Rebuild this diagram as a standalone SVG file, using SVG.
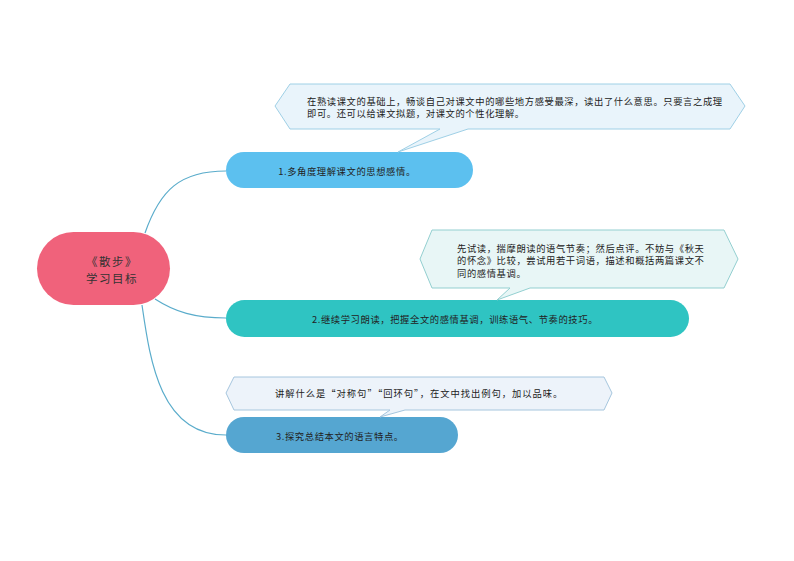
<svg xmlns="http://www.w3.org/2000/svg" width="794" height="561" viewBox="0 0 794 561">
<style>
text{font-family:"Noto Sans CJK SC","Noto Sans",sans-serif;fill:#222;}
.t{font-size:9.3px;letter-spacing:0.6px;}
.c{font-size:11.5px;letter-spacing:1.5px;fill:#333;}
.call{fill:#e9f4fb;stroke:#9fd0e6;stroke-width:1;}
.call2{fill:#e8f6f6;stroke:#93cfd0;stroke-width:1;}
.call3{fill:#edf3fa;stroke:#a6c6de;stroke-width:1;}
.conn{fill:none;stroke:#5aaccb;stroke-width:1.2;}
</style>
<rect width="794" height="561" fill="#fff"/>
<g id="connectors">
<path class="conn" d="M145,233 C160,190 180,171 226,171"/>
<path class="conn" d="M155,299 C175,312 195,318 226,318"/>
<path class="conn" d="M142,305 C150,360 160,435 226,435"/>
</g>
<g id="center">
<rect x="37" y="232" width="133" height="73" rx="36.5" fill="#f0627b"/>
<text class="c" x="112" y="265.5" text-anchor="middle">《散步》</text>
<text class="c" x="112" y="282.5" text-anchor="middle">学习目标</text>
</g>
<g id="node1">
<rect x="226" y="152" width="247" height="36" rx="18" fill="#5cc0ef"/>
<text class="t" x="347" y="175" text-anchor="middle">1.多角度理解课文的思想感情。</text>
</g>
<g id="callout1">
<path class="call" d="M290,84 L730,84 L745,106 L730,129 L468,129 L398,152 L440,129 L290,129 L275,106 Z"/>
<text class="t" x="307" y="104.5">在熟读课文的基础上，畅谈自己对课文中的哪些地方感受最深，读出了什么意思。只要言之成理</text>
<text class="t" x="307" y="117">即可。还可以给课文拟题，对课文的个性化理解。</text>
</g>
<g id="node2">
<rect x="226" y="300" width="463" height="37" rx="18.5" fill="#2fc4c2"/>
<text class="t" x="455" y="323" text-anchor="middle">2.继续学习朗读，把握全文的感情基调，训练语气、节奏的技巧。</text>
</g>
<g id="callout2">
<path class="call2" d="M432,230 L724,230 L738,259 L724,288 L530,288 L497,300 L510,288 L432,288 L420,259 Z"/>
<text class="t" x="457" y="251.5">先试读，揣摩朗读的语气节奏；然后点评。不妨与《秋天</text>
<text class="t" x="457" y="264">的怀念》比较，尝试用若干词语，描述和概括两篇课文不</text>
<text class="t" x="457" y="276.5">同的感情基调。</text>
</g>
<g id="node3">
<rect x="226" y="417" width="232" height="36" rx="18" fill="#55a6d1"/>
<text class="t" x="276" y="440">3.探究总结本文的语言特点。</text>
</g>
<g id="callout3">
<path class="call3" d="M234,377 L604,377 L612,393 L604,410 L405,410 L380,417 L390,410 L234,410 L226,393 Z"/>
<text class="t" x="275" y="397" textLength="288" lengthAdjust="spacing">讲解什么是“对称句”“回环句”，在文中找出例句，加以品味。</text>
</g>
</svg>
